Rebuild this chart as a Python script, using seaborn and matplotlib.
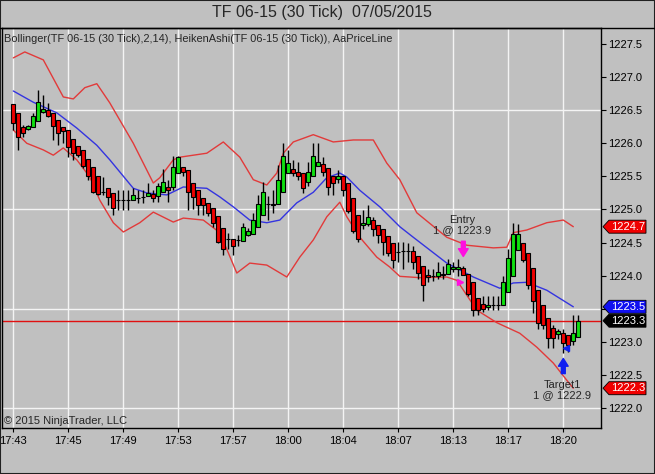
import numpy as np
import pandas as pd
import matplotlib
matplotlib.use("Agg")
import matplotlib.pyplot as plt
from matplotlib.patches import Polygon, Rectangle
from matplotlib.lines import Line2D
from matplotlib.transforms import IdentityTransform
import seaborn as sns

# Heiken Ashi bars, TF 06-15, 30 tick
ha_open = [1226.60, 1226.45, 1226.25, 1226.21, 1226.24, 1226.33, 1226.48, 1226.50, 1226.46, 1226.35,
           1226.25, 1226.20, 1226.07, 1225.96, 1225.90, 1225.77, 1225.64, 1225.50, 1225.27, 1225.33,
           1225.25, 1225.15, 1225.15, 1225.15, 1225.15, 1225.18, 1225.19, 1225.20, 1225.23, 1225.20,
           1225.27, 1225.34, 1225.34, 1225.55, 1225.64, 1225.59, 1225.40, 1225.29, 1225.17, 1225.10,
           1225.02, 1224.90, 1224.72, 1224.55, 1224.55, 1224.54, 1224.53, 1224.62, 1224.63, 1224.74,
           1224.92, 1225.09, 1225.09, 1225.09, 1225.27, 1225.55, 1225.61, 1225.57, 1225.55, 1225.42,
           1225.50, 1225.66, 1225.69, 1225.62, 1225.50, 1225.46, 1225.50, 1225.40, 1225.17, 1224.92,
           1224.76, 1224.78, 1224.84, 1224.77, 1224.70, 1224.60, 1224.49, 1224.36, 1224.37, 1224.37,
           1224.37, 1224.29, 1224.14, 1224.01, 1223.99, 1224.00, 1224.03, 1224.03, 1224.10, 1224.10,
           1224.11, 1224.03, 1223.91, 1223.67, 1223.57, 1223.53, 1223.56, 1223.56, 1223.56, 1223.76,
           1224.00, 1224.39, 1224.49, 1224.34, 1224.11, 1223.78, 1223.56, 1223.36, 1223.21, 1223.12,
           1223.14, 1223.10, 1223.01, 1223.07]
ha_close = [1226.30, 1226.10, 1226.15, 1226.26, 1226.41, 1226.63, 1226.52, 1226.41, 1226.26, 1226.16,
            1226.18, 1225.95, 1225.85, 1225.82, 1225.65, 1225.50, 1225.27, 1225.24, 1225.27, 1225.19,
            1225.02, 1225.15, 1225.15, 1225.15, 1225.22, 1225.18, 1225.19, 1225.25, 1225.18, 1225.35,
            1225.42, 1225.30, 1225.64, 1225.79, 1225.57, 1225.27, 1225.19, 1225.07, 1225.07, 1224.94,
            1224.80, 1224.51, 1224.41, 1224.55, 1224.45, 1224.54, 1224.73, 1224.67, 1224.84, 1225.08,
            1225.27, 1225.09, 1225.07, 1225.45, 1225.81, 1225.70, 1225.55, 1225.50, 1225.32, 1225.57,
            1225.81, 1225.72, 1225.56, 1225.34, 1225.40, 1225.50, 1225.29, 1224.97, 1224.68, 1224.56,
            1224.80, 1224.88, 1224.70, 1224.61, 1224.51, 1224.34, 1224.24, 1224.36, 1224.37, 1224.37,
            1224.20, 1224.04, 1223.86, 1223.98, 1224.00, 1224.05, 1224.01, 1224.17, 1224.13, 1224.13,
            1224.01, 1223.73, 1223.48, 1223.48, 1223.50, 1223.56, 1223.56, 1223.56, 1223.90, 1224.26,
            1224.63, 1224.63, 1224.24, 1223.86, 1223.61, 1223.28, 1223.26, 1223.06, 1223.06, 1223.16,
            1222.99, 1222.95, 1223.13, 1223.32]
ha_high = [1226.60, 1226.45, 1226.27, 1226.28, 1226.45, 1226.80, 1226.73, 1226.61, 1226.46, 1226.35,
           1226.25, 1226.20, 1226.07, 1225.96, 1225.90, 1225.77, 1225.64, 1225.50, 1225.49, 1225.33,
           1225.25, 1225.30, 1225.30, 1225.30, 1225.32, 1225.30, 1225.30, 1225.40, 1225.30, 1225.40,
           1225.61, 1225.45, 1225.81, 1225.81, 1225.64, 1225.59, 1225.40, 1225.29, 1225.17, 1225.10,
           1225.02, 1224.90, 1224.72, 1224.64, 1224.55, 1224.62, 1224.80, 1224.72, 1224.95, 1225.22,
           1225.42, 1225.20, 1225.30, 1225.67, 1226.01, 1225.90, 1225.75, 1225.72, 1225.55, 1225.72,
           1226.00, 1226.00, 1225.80, 1225.62, 1225.50, 1225.60, 1225.50, 1225.40, 1225.17, 1224.92,
           1224.99, 1225.07, 1224.88, 1224.77, 1224.70, 1224.60, 1224.49, 1224.51, 1224.51, 1224.50,
           1224.45, 1224.29, 1224.14, 1224.10, 1224.10, 1224.20, 1224.15, 1224.25, 1224.20, 1224.25,
           1224.15, 1224.03, 1223.91, 1223.67, 1223.70, 1223.70, 1223.70, 1223.70, 1224.00, 1224.41,
           1224.80, 1224.78, 1224.49, 1224.34, 1224.11, 1223.78, 1223.56, 1223.36, 1223.25, 1223.20,
           1223.20, 1223.10, 1223.41, 1223.41]
ha_low = [1226.20, 1225.90, 1226.10, 1226.20, 1226.24, 1226.33, 1226.45, 1226.40, 1226.05, 1225.97,
          1226.00, 1225.80, 1225.75, 1225.80, 1225.62, 1225.45, 1225.25, 1225.22, 1225.22, 1225.07,
          1224.92, 1224.99, 1224.99, 1224.99, 1225.15, 1225.10, 1225.10, 1225.20, 1225.12, 1225.12,
          1225.27, 1225.12, 1225.30, 1225.55, 1225.50, 1224.99, 1225.00, 1224.92, 1224.92, 1224.90,
          1224.74, 1224.50, 1224.31, 1224.41, 1224.31, 1224.45, 1224.53, 1224.60, 1224.63, 1224.74,
          1224.92, 1224.84, 1224.95, 1225.09, 1225.27, 1225.55, 1225.50, 1225.45, 1225.25, 1225.35,
          1225.50, 1225.66, 1225.50, 1225.22, 1225.22, 1225.40, 1225.20, 1224.95, 1224.65, 1224.51,
          1224.70, 1224.75, 1224.60, 1224.50, 1224.31, 1224.30, 1224.11, 1224.20, 1224.10, 1224.20,
          1224.10, 1223.95, 1223.61, 1223.90, 1223.92, 1223.95, 1223.95, 1224.03, 1224.05, 1224.00,
          1224.01, 1223.70, 1223.39, 1223.40, 1223.45, 1223.48, 1223.48, 1223.48, 1223.56, 1223.76,
          1224.00, 1224.39, 1224.20, 1223.80, 1223.43, 1223.20, 1223.20, 1222.90, 1222.90, 1223.05,
          1222.83, 1222.85, 1222.95, 1223.07]

upper_x = [0, 2.3, 6, 10, 12, 14.3, 16.7, 19.3, 24, 28, 29.3, 32, 33.3, 38.7, 42, 45.3, 48, 50.7,
           52.7, 54, 56, 60, 64, 68, 72, 74.7, 77.3, 80.7, 86.7, 90.7, 96, 98.7, 100, 102.7,
           106.7, 110, 112]
upper_y = [1227.29, 1227.38, 1227.26, 1226.70, 1226.67, 1226.84, 1226.90, 1226.61, 1226.00, 1225.40,
           1225.48, 1225.75, 1225.79, 1225.85, 1226.02, 1225.79, 1225.45, 1225.37, 1225.55, 1225.85,
           1226.02, 1226.13, 1226.02, 1226.05, 1226.05, 1225.70, 1225.45, 1224.95, 1224.58, 1224.46,
           1224.42, 1224.43, 1224.65, 1224.69, 1224.80, 1224.84, 1224.74]
mid_x = [0, 4, 8.7, 12.7, 16.7, 19.3, 24, 26.7, 30.7, 34, 38.7, 41.3, 44, 47.3, 50.7, 53.3, 56.7,
         60, 62.7, 65.3, 66.7, 69.3, 73.3, 77.3, 80, 86.7, 92, 97.3, 100, 102.7, 106.7, 112]
mid_y = [1226.79, 1226.62, 1226.46, 1226.23, 1225.97, 1225.75, 1225.32, 1225.25, 1225.22, 1225.34,
         1225.32, 1225.19, 1225.04, 1224.84, 1224.80, 1224.84, 1225.10, 1225.26, 1225.48, 1225.55,
         1225.49, 1225.29, 1225.04, 1224.74, 1224.58, 1224.19, 1223.98, 1223.81, 1223.89, 1223.90,
         1223.78, 1223.53]
lower_x = [0, 2.7, 6, 8, 10, 12.7, 15.3, 17.3, 20, 22, 25.3, 28, 32, 34, 38, 41.3, 44.7, 47.3,
           50.7, 54.7, 57.3, 60, 62.7, 65.3, 66.7, 69.3, 72.7, 75.3, 77.3, 81.3, 86.7, 88.7,
           92.7, 96.7, 101.3, 104.7, 108, 110.7, 112]
lower_y = [1226.20, 1226.00, 1225.90, 1225.82, 1225.93, 1225.75, 1225.49, 1225.14, 1224.80, 1224.66,
           1224.80, 1224.96, 1224.81, 1224.87, 1224.84, 1224.65, 1224.04, 1224.19, 1224.16, 1223.98,
           1224.28, 1224.54, 1224.89, 1225.11, 1224.89, 1224.58, 1224.28, 1224.13, 1223.99, 1223.97,
           1223.98, 1223.93, 1223.48, 1223.29, 1223.13, 1222.92, 1222.68, 1222.42, 1222.30]

time_bars = [0, 11, 22, 33, 44, 55, 66, 77, 88, 99, 110]
time_labels = ["17:43", "17:45", "17:49", "17:53", "17:57", "18:00", "18:04", "18:07",
               "18:13", "18:17", "18:20"]
price_ticks = [1222.0, 1222.5, 1223.0, 1223.5, 1224.0, 1224.5, 1225.0, 1225.5,
               1226.0, 1226.5, 1227.0, 1227.5]
grid_prices = [1222.0, 1223.5, 1225.0, 1226.5]

entry_price = 1223.9
entry_bar = 89.4
entry_arrow = (90, 1224.52, 1224.29)
target_price = 1222.9
target_bar = 110.6
target_arrow = (110, 1222.52, 1222.75)

BG = "#C0C0C0"
UP = "#10E010"
DOWN = "#F00000"
BAND = "#E23A3A"
MID = "#3434E0"

sns.set_theme(style="white", rc={"axes.facecolor": BG, "figure.facecolor": BG})
plt.rcParams["font.family"] = ["Liberation Sans", "DejaVu Sans"]

candles = pd.DataFrame({"open": ha_open, "high": ha_high, "low": ha_low, "close": ha_close})
candles["bar"] = np.arange(len(candles))
candles["color"] = np.where(candles["close"] >= candles["open"], UP, DOWN)

bands = pd.concat([
    pd.DataFrame({"bar": upper_x, "price": upper_y, "band": "upper"}),
    pd.DataFrame({"bar": mid_x, "price": mid_y, "band": "mid"}),
    pd.DataFrame({"bar": lower_x, "price": lower_y, "band": "lower"}),
])

fig = plt.figure(figsize=(6.55, 4.74), dpi=100, facecolor=BG)
ax = fig.add_axes([1.5 / 655, 46 / 474, 599.5 / 655, 400.5 / 474])
ax.set_facecolor(BG)
ax.set_xlim(-2.36, 117.54)
ax.set_ylim(1221.699, 1227.749)

# grid
for b in time_bars:
    ax.axvline(b, color="#F4F4F4", lw=1, zorder=0)
for p in grid_prices:
    ax.axhline(p, color="#F4F4F4", lw=1, zorder=0)

# bands
sns.lineplot(data=bands, x="bar", y="price", hue="band", estimator=None, sort=True,
             palette={"upper": BAND, "mid": MID, "lower": BAND}, linewidth=1,
             legend=False, ax=ax, zorder=2)

# price line
last_close = ha_close[-1]
ax.axhline(last_close, color="#E01010", lw=1, zorder=1)

# candles
ax.vlines(candles["bar"], candles["low"], candles["high"], color="black", lw=1, zorder=3)
ax.bar(candles["bar"], candles["close"] - candles["open"], bottom=candles["open"], width=0.78,
       color=candles["color"], edgecolor="black", linewidth=0.8, zorder=4)

# entry / target markers
arrow_style = "simple,head_length=0.8,head_width=1.0,tail_width=0.4"
ax.annotate("", xy=(entry_arrow[0], entry_arrow[2]), xytext=(entry_arrow[0], entry_arrow[1]),
            arrowprops=dict(arrowstyle=arrow_style, color="#FF10E0", mutation_scale=7,
                            shrinkA=0, shrinkB=0), zorder=5)
ax.plot([entry_bar], [entry_price], marker=">", color="#FF10E0", ms=5, zorder=5)
ax.text(entry_arrow[0] - 0.2, 1224.77, "Entry\n1 @ %.1f" % entry_price, ha="center", va="center",
        fontsize=8, linespacing=1.0, zorder=6)
ax.annotate("", xy=(target_arrow[0], target_arrow[2]), xytext=(target_arrow[0], target_arrow[1]),
            arrowprops=dict(arrowstyle=arrow_style, color="#1020F0", mutation_scale=7,
                            shrinkA=0, shrinkB=0), zorder=5)
ax.plot([target_bar], [target_price], marker="<", color="#1020F0", ms=5, zorder=5)
ax.text(target_arrow[0] - 0.2, 1222.27, "Target1\n1 @ %.1f" % target_price, ha="center",
        va="center", fontsize=8, linespacing=1.0, zorder=6)

# price tags on the right (they cover the axis labels underneath)
tags = [(upper_y[-1], "#F00000"), (mid_y[-1], "#1010F0"), (last_close, "black"),
        (lower_y[-1], "#F00000")]

ax.yaxis.tick_right()
ax.set_yticks(price_ticks)
ax.set_yticklabels(["" if any(abs(p - t) < 0.1 for t, _ in tags) else "%.1f" % p
                    for p in price_ticks])
ax.set_xticks(time_bars)
ax.set_xticklabels(time_labels)
ax.tick_params(axis="y", which="major", direction="out", length=3.6, width=0.8, pad=1.5,
               labelsize=8, colors="black", right=True, left=False)
ax.tick_params(axis="x", which="major", direction="out", length=3, width=0.8, pad=2.5,
               labelsize=8, colors="black", bottom=True)
ax.set_xlabel("")
ax.set_ylabel("")
for s in ax.spines.values():
    s.set_visible(True)
    s.set_color("black")
    s.set_linewidth(1)


def price_tag(price, color):
    y = ax.transData.transform((0, price))[1]
    x0 = 603
    verts = [(x0, y), (x0 + 6, y + 6.5), (x0 + 43, y + 6.5), (x0 + 43, y - 6.5), (x0 + 6, y - 6.5)]
    fig.add_artist(Polygon(verts, closed=True, transform=IdentityTransform(), facecolor=color,
                           edgecolor="black", linewidth=0.6, zorder=10))
    fig.text(x0 + 25, y, "%.1f" % price, transform=IdentityTransform(), color="white",
             fontsize=8, ha="center", va="center", zorder=11)


for t, c in tags:
    price_tag(t, c)

# text
fig.text(322 / 655, 1 - 13 / 474, "TF 06-15 (30 Tick)  07/05/2015", ha="center", va="center",
         fontsize=11.5)
fig.text(4 / 655, 1 - 39 / 474,
         "Bollinger(TF 06-15 (30 Tick),2,14), HeikenAshi(TF 06-15 (30 Tick)), AaPriceLine",
         ha="left", va="center", fontsize=7.9)
fig.text(4 / 655, 1 - 421 / 474, "\u00a9 2015 NinjaTrader, LLC", ha="left", va="center",
         fontsize=8)

fig.add_artist(Line2D([0, 1], [1 - 27.5 / 474] * 2, transform=fig.transFigure,
                      color="black", lw=1))
fig.add_artist(Rectangle((0, 0), 1, 1, transform=fig.transFigure, fill=False,
                         edgecolor="#202020", linewidth=1.5))

fig.savefig("out.png", dpi=100, facecolor=BG)
